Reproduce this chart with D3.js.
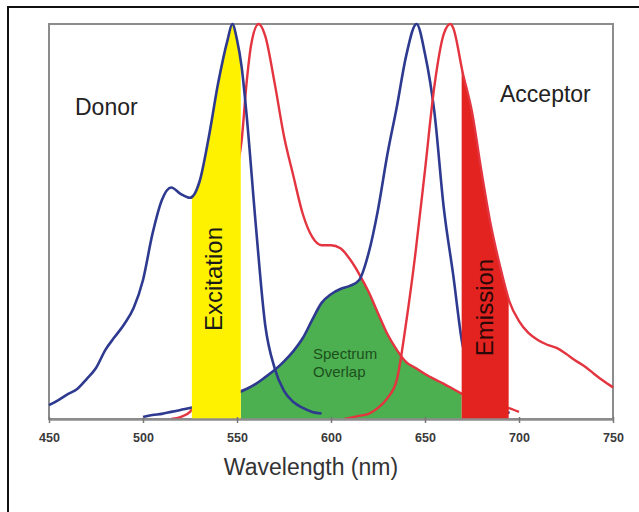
<!DOCTYPE html>
<html>
<head>
<meta charset="utf-8">
<script src="https://cdn.jsdelivr.net/npm/d3@7"></script>
<style>
  html, body { margin: 0; padding: 0; background: #fff; }
  svg { display: block; }
  text { font-family: "Liberation Sans", Arial, Helvetica, sans-serif; }
</style>
</head>
<body>
<svg id="chart" width="639" height="512"></svg>
<script>
// ---- data (normalized intensity, 0..1) ----
const tickValues = [450, 500, 550, 600, 650, 700, 750];

const donorAbsWl  = [450,455,460,465,470,475,480,485,490,495,500,505,510,515,520,525,530,535,540,545,547.5,550,552.5,555,560,565,570,575,580,585,590,595];
const donorAbsVal = [0.035,0.048,0.063,0.076,0.101,0.129,0.175,0.208,0.24,0.281,0.352,0.468,0.554,0.586,0.57,0.56,0.6,0.714,0.851,0.96,1.0,0.96,0.89,0.775,0.491,0.238,0.129,0.071,0.043,0.028,0.018,0.014];

const donorEmWl  = [515,520,525,530,535,540,545,550,552.5,555,557.5,561.5,565,570,575,580,585,590,595,600,605,610,615,620,625,630,635,640,645,650,655,660,665,670,675,680,685,690,695,700];
const donorEmVal = [0,0.005,0.018,0.06,0.15,0.3,0.48,0.63,0.706,0.846,0.947,1.0,0.97,0.851,0.716,0.615,0.519,0.461,0.44,0.44,0.432,0.405,0.367,0.322,0.268,0.215,0.175,0.144,0.129,0.114,0.101,0.089,0.076,0.063,0.053,0.046,0.038,0.033,0.027,0.018];

const acceptorAbsWl  = [500,505,510,515,520,525,530,535,540,545,550,555,560,565,570,575,580,585,590,595,600,605,610,615,620,625,630,635,640,645.5,650,655,660,665,670,675,680,685,690,695];
const acceptorAbsVal = [0.005,0.01,0.013,0.018,0.023,0.028,0.035,0.043,0.051,0.058,0.066,0.076,0.089,0.106,0.124,0.146,0.172,0.205,0.251,0.294,0.316,0.329,0.337,0.352,0.42,0.53,0.67,0.79,0.92,1.0,0.924,0.777,0.534,0.365,0.187,0.12,0.07,0.04,0.025,0.015];

const acceptorEmWl  = [607,610,615,620,625,630,635,640,645,650,655,660,663.5,665,670,675,680,685,690,695,700,705,710,715,720,725,730,735,740,745,750];
const acceptorEmVal = [0,0.003,0.008,0.013,0.028,0.053,0.099,0.245,0.423,0.63,0.843,0.975,1.0,0.99,0.878,0.777,0.628,0.491,0.385,0.296,0.248,0.218,0.2,0.188,0.18,0.165,0.148,0.133,0.114,0.096,0.08];

const excitationBand = [526, 552];
const overlapBand    = [552, 669.5];
const emissionBand   = [669.5, 694.5];

// ---- scales ----
const svg = d3.select("#chart");
const x = d3.scaleLinear().domain([450, 750]).range([49, 613]);
const y = d3.scaleLinear().domain([0, 1]).range([419, 24]);

const pts = (wl, v) => wl.map((w, i) => ({ w: w, v: v[i] }));
const donorAbs = pts(donorAbsWl, donorAbsVal);
const donorEm = pts(donorEmWl, donorEmVal);
const accAbs = pts(acceptorAbsWl, acceptorAbsVal);
const accEm = pts(acceptorEmWl, acceptorEmVal);

const curve = d3.curveMonotoneX;
const line = d3.line().x(d => x(d.w)).y(d => y(d.v)).curve(curve);
const area = d3.area().x(d => x(d.w)).y0(y(0)).y1(d => y(d.v)).curve(curve);

const BLUE = "#2e3a8f";
const RED = "#e3343f";

// outer frame
svg.append("path").attr("d", "M8,512 L8,7 L639,7")
  .attr("fill", "none").attr("stroke", "#111").attr("stroke-width", 2);

// clip paths
const defs = svg.append("defs");
function bandClip(id, band) {
  defs.append("clipPath").attr("id", id).append("rect")
    .attr("x", x(band[0])).attr("y", 0)
    .attr("width", x(band[1]) - x(band[0])).attr("height", 512);
}
bandClip("clipExc", excitationBand);
bandClip("clipOv", overlapBand);
bandClip("clipEm", emissionBand);
defs.append("clipPath").attr("id", "clipAccAbs").append("path").attr("d", area(accAbs));

// plot box
svg.append("rect").attr("x", x(450)).attr("y", y(1))
  .attr("width", x(750) - x(450)).attr("height", y(0) - y(1))
  .attr("fill", "none").attr("stroke", "#8c8c8c").attr("stroke-width", 2);

// overlap (green): under donor emission AND under acceptor absorption
svg.append("g").attr("clip-path", "url(#clipOv)")
  .append("g").attr("clip-path", "url(#clipAccAbs)")
  .append("path").attr("d", area(donorEm)).attr("fill", "#4caf50");

// lines behind bands
svg.append("path").attr("d", line(donorEm)).attr("fill", "none").attr("stroke", RED).attr("stroke-width", 2.4);
svg.append("path").attr("d", line(accAbs)).attr("fill", "none").attr("stroke", BLUE).attr("stroke-width", 2.6);

// excitation (yellow)
svg.append("g").attr("clip-path", "url(#clipExc)")
  .append("path").attr("d", area(donorAbs)).attr("fill", "#fff200");

// emission (red)
svg.append("g").attr("clip-path", "url(#clipEm)")
  .append("path").attr("d", area(accEm)).attr("fill", "#e2231f");

// front lines
svg.append("path").attr("d", line(donorAbs)).attr("fill", "none").attr("stroke", BLUE).attr("stroke-width", 2.6);
svg.append("path").attr("d", line(accEm)).attr("fill", "none").attr("stroke", RED).attr("stroke-width", 2.4);

// axis
const axis = svg.append("g").attr("transform", `translate(0,${y(0)})`)
  .call(d3.axisBottom(x).tickValues(tickValues).tickSizeOuter(0).tickSizeInner(5).tickFormat(d3.format("d")));
axis.select(".domain").attr("stroke", "#8c8c8c").attr("stroke-width", 2.5);
axis.selectAll(".tick line").attr("stroke", "#777").attr("stroke-width", 1.5).attr("y1", -2).attr("y2", 4);
axis.selectAll(".tick text").attr("y", 23).attr("dy", 0)
  .attr("fill", "#3a3a3a").style("font-size", "12.5px").style("font-weight", "bold")
  .style("font-family", "'Liberation Sans', Arial, sans-serif");

// labels
svg.append("text").attr("x", 311).attr("y", 475).attr("text-anchor", "middle")
  .attr("fill", "#333").style("font-size", "23px").text("Wavelength (nm)");
svg.append("text").attr("x", 75).attr("y", 115).attr("fill", "#222").style("font-size", "23px").text("Donor");
svg.append("text").attr("x", 500).attr("y", 102).attr("fill", "#222").style("font-size", "23px").text("Acceptor");

svg.append("text").attr("transform", "translate(221.5,279) rotate(-90)").attr("text-anchor", "middle")
  .attr("fill", "#1a1a1a").style("font-size", "24px").text("Excitation");
svg.append("text").attr("transform", "translate(493,307.5) rotate(-90)").attr("text-anchor", "middle")
  .attr("fill", "#2a0808").style("font-size", "24px").text("Emission");

svg.append("text").attr("x", 313).attr("y", 359).attr("fill", "#1d4f1d").style("font-size", "15px").text("Spectrum");
svg.append("text").attr("x", 313).attr("y", 377).attr("fill", "#1d4f1d").style("font-size", "15px").text("Overlap");
</script>
</body>
</html>
